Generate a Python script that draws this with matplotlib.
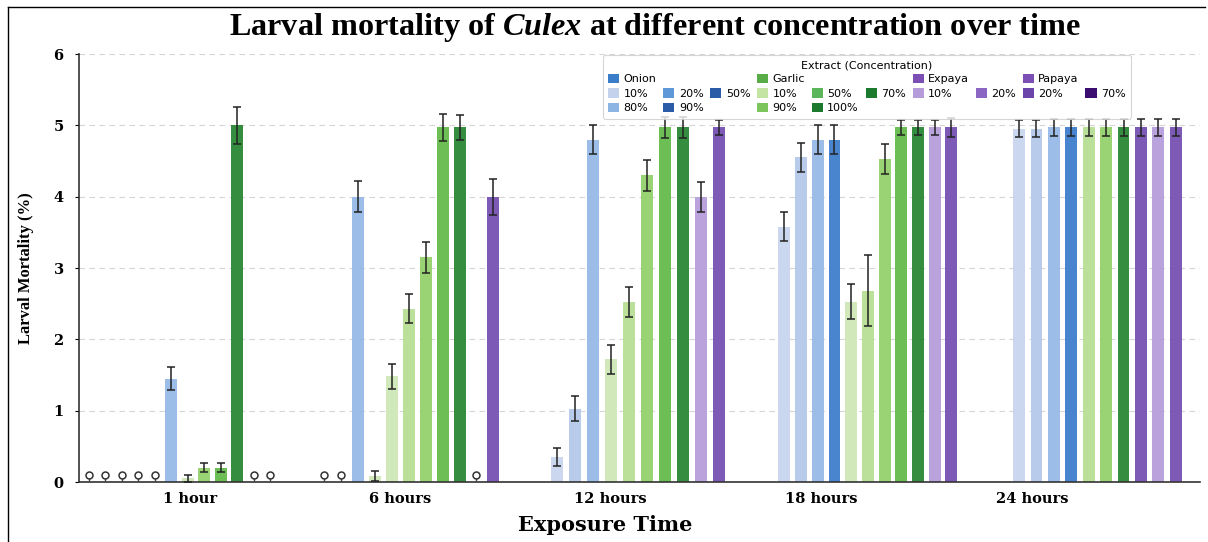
import matplotlib
matplotlib.use("Agg")
import matplotlib.pyplot as plt
from matplotlib.patches import Patch
from matplotlib.lines import Line2D
import numpy as np

# ---------------- data ----------------
groups = ["1 hour", "6 hours", "12 hours", "18 hours", "24 hours"]

h1_keys = ["Z", "Z", "Z", "Z", "Z", "O80", "G10", "G90", "G70", "G100", "Z", "Z"]
h1_vals = [0, 0, 0, 0, 0, 1.45, 0.05, 0.20, 0.20, 5.00, 0, 0]
h1_errs = [0, 0, 0, 0, 0, 0.16, 0.05, 0.06, 0.06, 0.26, 0, 0]

h6_keys = ["Z", "Z", "O80", "G10", "G10", "G50", "G90", "G70", "G100", "Z", "P20"]
h6_vals = [0, 0, 4.00, 0.08, 1.48, 2.43, 3.15, 4.97, 4.97, 0, 4.00]
h6_errs = [0, 0, 0.22, 0.07, 0.18, 0.20, 0.22, 0.19, 0.18, 0, 0.25]

h12_keys = ["O10", "O20", "O80", "G10", "G50", "G90", "G70", "G100", "E10", "P20"]
h12_vals = [0.35, 1.03, 4.80, 1.72, 2.53, 4.30, 4.97, 4.97, 4.00, 4.97]
h12_errs = [0.13, 0.18, 0.20, 0.20, 0.21, 0.22, 0.15, 0.15, 0.21, 0.10]

h18_keys = ["O10", "O20", "O80", "O90", "G10", "G50", "G90", "G70", "G100", "E10", "P20"]
h18_vals = [3.58, 4.55, 4.80, 4.80, 2.53, 2.68, 4.53, 4.97, 4.97, 4.97, 4.97]
h18_errs = [0.20, 0.20, 0.20, 0.20, 0.24, 0.50, 0.21, 0.10, 0.10, 0.10, 0.13]

h24_keys = ["O10", "O20", "O80", "O90", "G50", "G90", "G100", "P20", "E10", "P20"]
h24_vals = [4.95, 4.95, 4.97, 4.97, 4.97, 4.97, 4.97, 4.97, 4.97, 4.97]
h24_errs = [0.12, 0.12, 0.12, 0.12, 0.12, 0.12, 0.12, 0.12, 0.12, 0.12]

series_colors = {
    "O10": "#c9d5ee", "O20": "#b5c9ea", "O80": "#97bae6", "O90": "#3f7fcc",
    "G10": "#cfe8b7", "G50": "#b7df95", "G90": "#95d16c", "G70": "#66bb4d",
    "G100": "#2a8834", "E10": "#b79ddc", "P20": "#7651b2", "Z": "#ffffff",
}

legend_labels = ["Onion", "10%", "80%", "", "20%", "90%", "", "50%", "",
                 "Garlic", "10%", "90%", "", "50%", "100%", "", "70%", "",
                 "Expaya", "10%", "", "", "20%", "",
                 "Papaya", "20%", "", "", "70%", ""]
legend_colors = ["#3a7dc9", "#c5d2ec", "#8cb5e3", None, "#5f98d8", "#2b5aa6", None, "#2b5aa6", None,
                 "#58ad48", "#c4e4a4", "#7cc55c", None, "#5bb55a", "#1c7a2f", None, "#1c7a2f", None,
                 "#7c4fb5", "#b59bd9", None, None, "#8b67c3", None,
                 "#7c4fb5", "#6b45aa", None, None, "#3b0d70", None]

all_keys = [h1_keys, h6_keys, h12_keys, h18_keys, h24_keys]
all_vals = [h1_vals, h6_vals, h12_vals, h18_vals, h24_vals]
all_errs = [h1_errs, h6_errs, h12_errs, h18_errs, h24_errs]

# ---------------- layout / style ----------------
W, H = 1208, 542
PX_PER_UNIT = 229.5
GROUP_SLOT_PX = [16.5, 16.9, 18.0, 16.7, 17.4]
BAR_W = 0.052
TICK_START, TICK_STEP = 0.046, 0.917

fig = plt.figure(figsize=(W / 100, H / 100), dpi=100)
ax = fig.add_axes([79 / W, 1 - 482 / H, (1200 - 79) / W, (482 - 54) / H])

for gi, (keys, vals, errs) in enumerate(zip(all_keys, all_vals, all_errs)):
    n = len(keys)
    slot = GROUP_SLOT_PX[gi] / PX_PER_UNIT
    xs = gi + (np.arange(n) - (n - 1) / 2) * slot
    vals = np.array(vals, dtype=float)
    errs = np.array(errs, dtype=float)
    for x, k, v, e in zip(xs, keys, vals, errs):
        if k == "Z":
            ax.plot([x, x], [0, 0.06], color="#444444", lw=1.0, zorder=3)
            ax.plot(x, 0.1, marker="o", ms=5, mfc="white", mec="#333333", mew=1.1, zorder=4)
            continue
        ax.bar(x, v, width=BAR_W, color=series_colors[k], alpha=0.95, zorder=2, linewidth=0)
        ax.errorbar(x, v, yerr=e, fmt="none", ecolor="#222222", elinewidth=1.1,
                    capsize=3, capthick=1.1, zorder=3)

ax.set_xlim(-0.437, 4.447)
ax.set_ylim(0, 6)
ax.set_yticks(range(0, 7))
ax.set_xticks([TICK_START + TICK_STEP * i for i in range(len(groups))])
ax.set_xticklabels(groups)
for lab in ax.get_xticklabels() + ax.get_yticklabels():
    lab.set_fontfamily("DejaVu Serif")
    lab.set_fontweight("bold")
    lab.set_fontsize(10.5)
ax.tick_params(axis="x", length=0, pad=7)
ax.tick_params(axis="y", length=3, pad=8)
ax.yaxis.grid(True, linestyle=(0, (5, 4)), color="#d5d5d5", lw=0.8, zorder=0)
ax.set_axisbelow(True)
for s in ["top", "right"]:
    ax.spines[s].set_visible(False)
for s in ["left", "bottom"]:
    ax.spines[s].set_color("#333333")
    ax.spines[s].set_linewidth(1.2)

ax.set_ylabel("Larval Mortality (%)", fontfamily="Liberation Serif", fontweight="bold", fontsize=12, labelpad=14)
fig.text(605 / W, 1 - 525 / H, "Exposure Time", ha="center", va="center",
         fontfamily="DejaVu Serif", fontweight="bold", fontsize=15)

plt.rcParams["mathtext.fontset"] = "custom"
plt.rcParams["mathtext.rm"] = "Liberation Serif:bold"
plt.rcParams["mathtext.it"] = "Liberation Serif:bold:italic"
fig.text(655 / W, 1 - 28 / H, r"Larval mortality of $\mathit{Culex}$ at different concentration over time",
         ha="center", va="center", fontfamily="Liberation Serif", fontweight="bold", fontsize=23.2)

handles = []
for c in legend_colors:
    if c is None:
        handles.append(Patch(facecolor="none", edgecolor="none"))
    else:
        handles.append(Patch(facecolor=c, edgecolor="none"))
leg = fig.legend(handles, legend_labels, loc="upper left", bbox_to_anchor=(597 / W, 1 - 49 / H),
                 ncol=10, title="Extract (Concentration)", title_fontsize=8,
                 handlelength=1.0, handleheight=0.9, handletextpad=0.4, columnspacing=0.6,
                 labelspacing=0.35, frameon=True, fancybox=True, borderpad=0.5,
                 prop={"family": "DejaVu Sans", "size": 8})
leg.get_frame().set_edgecolor("#cccccc")
leg.get_frame().set_linewidth(0.8)

# outer frame lines
fig.add_artist(Line2D([8 / W, 8 / W], [0, 1 - 7 / H], transform=fig.transFigure, color="black", lw=1))
fig.add_artist(Line2D([8 / W, 1205 / W], [1 - 7 / H, 1 - 7 / H], transform=fig.transFigure, color="black", lw=1))

fig.savefig("out.png", dpi=100, facecolor="white")
